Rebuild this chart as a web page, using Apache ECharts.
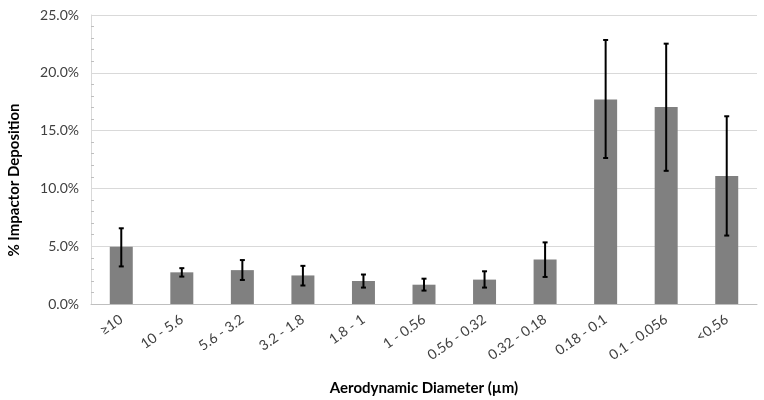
<!DOCTYPE html>
<html><head><meta charset="utf-8">
<script src="https://cdn.jsdelivr.net/npm/echarts@6/dist/echarts.min.js"></script>
<style>html,body{margin:0;padding:0;background:#fff}#c{width:764px;height:400px}</style>
</head><body><div id="c"></div>
<script>
var categories = ['≥10','10 - 5.6','5.6 - 3.2','3.2 - 1.8','1.8 - 1','1 - 0.56','0.56 - 0.32','0.32 - 0.18','0.18 - 0.1','0.1 - 0.056','<0.56'];
var meanValues = [4.95, 2.74, 2.93, 2.47, 1.99, 1.67, 2.11, 3.84, 17.7, 17.05, 11.07];
var errLow = [3.25, 2.37, 2.08, 1.60, 1.42, 1.16, 1.42, 2.34, 12.63, 11.52, 5.92];
var errHigh = [6.55, 3.10, 3.80, 3.30, 2.55, 2.19, 2.83, 5.33, 22.84, 22.52, 16.24];
var yTicks = [0, 5, 10, 15, 20, 25];

var font = 'Lato, "Open Sans", sans-serif';
var chart = echarts.init(document.getElementById('c'));
var errData = categories.map(function(c, i){ return [i, errLow[i], errHigh[i]]; });
chart.setOption({
  animation: false,
  grid: {left: 91, right: 7, top: 15, bottom: 96, outerBoundsMode: 'none', containLabel: false},
  graphic: [{
    type: 'text', x: 14, y: 180, rotation: Math.PI/2,
    style: {text: '% Impactor Deposition', font: 'bold 15px ' + font, fill: '#000', align: 'center', verticalAlign: 'middle'}
  }],
  xAxis: {
    type: 'category', data: categories,
    axisLine: {lineStyle: {color: '#bfbfbf', width: 1}},
    axisTick: {show: false},
    axisLabel: {rotate: 35, color: '#404040', fontFamily: font, fontSize: 14, margin: 14, interval: 0},
    name: 'Aerodynamic Diameter (µm)', nameLocation: 'middle', nameGap: 77,
    nameTextStyle: {fontFamily: font, fontSize: 15, fontWeight: 'bold', color: '#000'}
  },
  yAxis: {
    type: 'value', min: yTicks[0], max: yTicks[yTicks.length-1], interval: 5,
    axisLine: {show: true, lineStyle: {color: '#d9d9d9'}},
    axisTick: {show: false, inside: true},
    minorTick: {show: true, splitNumber: 5, length: 3, lineStyle: {color: '#bfbfbf'}},
    splitLine: {lineStyle: {color: '#d9d9d9', width: 1}},
    axisLabel: {formatter: function(v){ return v.toFixed(1) + '%'; }, color: '#404040', fontFamily: font, fontSize: 14, margin: 12}
  },
  series: [
    {type: 'bar', data: meanValues, barWidth: 23, itemStyle: {color: '#808080'}, z: 2},
    {type: 'custom', z: 3, data: errData,
     renderItem: function(params, api){
       var x = api.value(0);
       var lo = api.coord([x, api.value(1)]);
       var hi = api.coord([x, api.value(2)]);
       var cw = 2.5;
       var st = {stroke: '#000', lineWidth: 2};
       return {type: 'group', children: [
         {type: 'line', shape: {x1: lo[0], y1: lo[1], x2: hi[0], y2: hi[1]}, style: st},
         {type: 'line', shape: {x1: lo[0]-cw, y1: lo[1], x2: lo[0]+cw, y2: lo[1]}, style: st},
         {type: 'line', shape: {x1: hi[0]-cw, y1: hi[1], x2: hi[0]+cw, y2: hi[1]}, style: st}
       ]};
     }}
  ]
});
</script></body></html>
